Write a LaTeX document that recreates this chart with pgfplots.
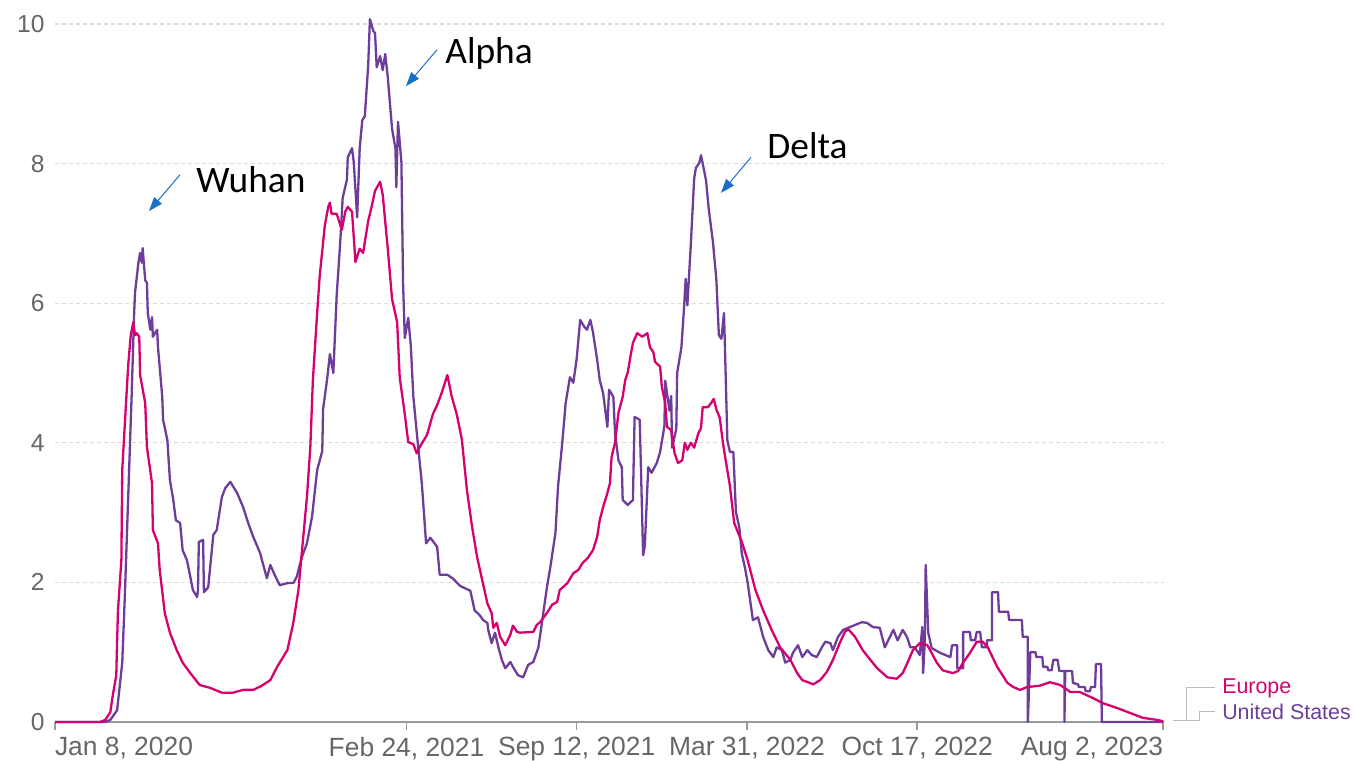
\documentclass[border=0pt]{standalone}
\usepackage{pgfplots}
\pgfplotsset{compat=1.18}
\usepackage{fontspec}
\setmainfont{Liberation Sans}
\newfontfamily\calibri{Carlito}
\usetikzlibrary{arrows.meta}
\definecolor{europe}{HTML}{D6006E}
\definecolor{usa}{HTML}{6E3C9B}
\definecolor{tickgray}{HTML}{666666}
\definecolor{axisgray}{HTML}{9A9A9A}
\definecolor{gridgray}{HTML}{DADADA}
\definecolor{arrowblue}{HTML}{1A6FC4}
\definecolor{conngray}{HTML}{BBBBBB}

\pgfplotstableread{
x y
0 0
53 0
59 0.03
65 0.14
68 0.39
72 0.67
73 1.17
74 1.60
78 2.32
79 3.61
83 4.47
86 5.11
89 5.54
92 5.73
94 5.54
96 5.57
99 5.52
100 4.97
106 4.57
108 3.94
114 3.42
115 2.75
121 2.56
123 2.18
129 1.56
135 1.28
143 1.03
150 0.85
159 0.70
170 0.53
182 0.49
196 0.42
209 0.42
221 0.46
233 0.46
243 0.52
253 0.60
261 0.79
273 1.03
280 1.42
286 1.89
291 2.56
296 3.22
300 3.94
303 4.90
308 5.86
311 6.39
317 7.11
321 7.38
323 7.44
325 7.28
331 7.28
337 7.05
341 7.31
344 7.38
349 7.31
353 6.59
358 6.78
362 6.72
368 7.18
372 7.38
376 7.61
382 7.74
385 7.56
391 6.78
396 6.06
402 5.73
405 4.94
411 4.41
415 4.01
421 3.98
425 3.85
429 3.95
437 4.11
444 4.41
449 4.54
455 4.74
461 4.97
466 4.67
472 4.41
478 4.05
484 3.32
490 2.80
496 2.36
502 2.03
508 1.70
513 1.56
515 1.35
519 1.42
523 1.22
529 1.10
535 1.25
538 1.38
543 1.29
546 1.28
562 1.29
566 1.39
570 1.43
576 1.53
579 1.58
584 1.68
590 1.72
593 1.89
602 1.99
609 2.13
615 2.18
620 2.28
626 2.35
632 2.46
637 2.65
640 2.89
644 3.08
649 3.28
652 3.42
654 3.80
658 4.00
662 4.43
667 4.66
670 4.90
673 5.01
676 5.23
679 5.43
684 5.57
690 5.52
696 5.57
699 5.37
703 5.30
705 5.16
711 5.09
713 4.80
717 4.57
719 4.23
724 4.18
728 3.85
732 3.71
737 3.75
740 4.00
743 3.90
747 4.00
751 3.93
756 4.14
759 4.21
761 4.51
767 4.51
771 4.57
774 4.63
777 4.48
781 4.36
785 3.98
788 3.75
793 3.38
798 2.85
807 2.58
814 2.31
823 1.89
832 1.60
842 1.32
852 1.07
864 0.89
872 0.70
878 0.60
891 0.54
899 0.60
907 0.72
914 0.89
922 1.13
928 1.29
932 1.33
940 1.22
949 1.03
958 0.89
966 0.77
978 0.64
989 0.62
996 0.70
1002 0.86
1008 1.03
1016 1.13
1025 1.10
1030 0.99
1036 0.85
1043 0.74
1055 0.70
1061 0.73
1067 0.85
1075 0.99
1083 1.15
1090 1.15
1096 1.07
1107 0.79
1119 0.56
1126 0.50
1134 0.46
1142 0.50
1157 0.52
1169 0.57
1181 0.53
1193 0.43
1204 0.43
1220 0.34
1231 0.27
1248 0.20
1263 0.13
1278 0.06
1295 0.03
1302 0.01
}\europedata

\pgfplotstableread{
x y
0 0
59 0
65 0.03
73 0.17
79 0.85
82 1.79
86 3.22
90 4.66
93 5.86
94 6.15
98 6.58
100 6.72
102 6.58
103 6.79
106 6.33
108 6.29
109 5.86
112 5.62
114 5.80
115 5.52
120 5.62
121 5.37
126 4.66
127 4.33
132 4.04
135 3.47
139 3.18
142 2.89
147 2.85
150 2.46
155 2.32
159 2.08
162 1.89
167 1.79
168 1.89
169 2.58
174 2.61
175 1.86
180 1.93
186 2.68
190 2.75
196 3.22
200 3.35
206 3.44
214 3.28
221 3.08
227 2.85
233 2.65
241 2.42
244 2.28
249 2.06
253 2.25
258 2.11
264 1.96
273 1.99
280 1.99
284 2.08
290 2.36
296 2.56
302 2.94
308 3.61
314 3.88
315 4.48
320 4.94
323 5.27
327 5.00
331 6.12
335 6.85
338 7.51
343 7.77
344 8.09
349 8.22
351 8.02
355 7.23
358 8.22
361 8.62
364 8.68
368 9.41
370 10.07
374 9.90
376 9.87
378 9.38
382 9.54
385 9.34
388 9.57
391 9.24
396 8.50
400 8.22
401 7.66
403 8.60
407 8.02
409 6.26
411 5.50
415 5.79
418 5.40
421 4.67
425 4.15
431 3.42
436 2.56
441 2.64
449 2.51
452 2.11
461 2.11
468 2.05
476 1.95
488 1.88
493 1.60
499 1.53
503 1.46
508 1.42
509 1.32
513 1.13
517 1.28
521 1.07
525 0.89
529 0.77
535 0.86
538 0.79
544 0.67
550 0.64
556 0.82
562 0.86
568 1.07
573 1.50
578 1.93
582 2.22
588 2.71
591 3.37
596 4.00
600 4.57
605 4.94
609 4.86
613 5.21
617 5.76
622 5.66
625 5.62
629 5.76
632 5.59
637 5.19
640 4.90
644 4.71
649 4.23
651 4.76
656 4.66
658 4.14
662 3.75
666 3.65
667 3.18
673 3.11
679 3.18
681 4.37
687 4.33
691 2.39
693 2.52
697 3.65
701 3.57
707 3.71
711 3.87
716 4.24
717 4.89
722 4.46
724 4.67
725 3.93
730 4.20
731 5.00
736 5.37
739 5.92
741 6.35
743 5.97
747 6.83
751 7.79
753 7.94
757 8.01
759 8.12
763 7.88
765 7.75
768 7.36
773 6.88
777 6.35
780 5.54
783 5.49
786 5.86
787 5.43
790 4.03
793 3.87
797 3.87
800 3.01
804 2.79
807 2.41
811 2.19
814 1.98
820 1.46
826 1.50
832 1.22
838 1.03
844 0.93
848 1.07
854 1.03
858 0.85
864 0.89
867 0.99
873 1.10
878 0.93
884 1.03
889 0.96
895 0.93
901 1.07
905 1.15
911 1.13
914 1.03
920 1.22
926 1.32
934 1.36
940 1.39
948 1.43
954 1.42
961 1.36
969 1.35
975 1.07
981 1.22
985 1.32
990 1.17
996 1.32
1001 1.22
1005 1.07
1010 1.07
1016 0.96
1019 1.36
1020 0.70
1022 1.17
1023 2.25
1026 1.28
1030 1.06
1040 0.99
1052 0.93
1054 1.10
1060 1.10
1060 0.77
1067 0.77
1067 1.29
1075 1.29
1076 1.17
1081 1.17
1083 1.29
1087 1.29
1089 1.07
1095 1.07
1095 1.17
1101 1.17
1101 1.86
1108 1.86
1109 1.58
1120 1.58
1121 1.46
1136 1.46
1137 1.22
1143 1.22
1143 0
1146 1.00
1152 1.00
1153 0.93
1160 0.93
1161 0.79
1166 0.79
1167 0.74
1171 0.74
1173 0.89
1178 0.89
1180 0.73
1186 0.73
1186 0
1187 0.73
1195 0.73
1196 0.56
1202 0.54
1203 0.50
1210 0.50
1211 0.44
1216 0.44
1217 0.50
1222 0.50
1223 0.83
1229 0.83
1230 0
1302 0
}\usdata

\begin{document}
\begin{tikzpicture}
\useasboundingbox (-27.5pt,-19.5pt) rectangle (650.5pt,361pt);
\begin{axis}[
  at={(0pt,0pt)}, anchor=south west,
  scale only axis, width=554.5pt, height=349pt,
  xmin=0, xmax=1303, ymin=0, ymax=10,
  clip=false,
  axis x line*=bottom, axis y line*=left,
  x axis line style={draw=axisgray, line width=0.75pt, -},
  y axis line style={draw=none},
  xtick={0,413,613,813,1013,1302},
  xticklabels={{\makebox[0pt][l]{Jan 8, 2020}},{Feb 24, 2021},{Sep 12, 2021},{Mar 31, 2022},{Oct 17, 2022},{\makebox[0pt][r]{Aug 2, 2023}}},
  ytick={0,2,4,6,8,10},
  yticklabels={0,2,4,6,8,10},
  tick align=outside,
  major tick length=4pt,
  xtick style={draw=axisgray, line width=0.75pt},
  ytick style={draw=none},
  ymajorgrids=true,
  grid style={draw=gridgray, line width=0.6pt, dash pattern=on 2pt off 1.5pt},
  xticklabel style={font=\fontsize{13.2}{14}\selectfont, text=tickgray, inner sep=0pt, anchor=north, yshift=-3.5pt},
  yticklabel style={font=\fontsize{12.3}{14}\selectfont, text=tickgray, inner sep=0pt, anchor=east, xshift=-1pt},
]
\addplot[usa, line width=1.15pt, line join=round, mark=none] table[x=x,y=y] {\usdata};
\addplot[europe, line width=1.15pt, line join=round, mark=none] table[x=x,y=y] {\europedata};

% legend connectors
\draw[conngray, line width=0.5pt] (axis cs:1313,0.015) -- (axis cs:1329,0.015) -- (axis cs:1329,0.50) -- (axis cs:1363,0.50);
\draw[conngray, line width=0.5pt] (axis cs:1329,0.015) -- (axis cs:1345,0.015) -- (axis cs:1345,0.155) -- (axis cs:1363,0.155);
\node[anchor=west, inner sep=0pt, text=europe, font=\fontsize{10.7}{12}\selectfont] at (axis cs:1371,0.48) {Europe};
\node[anchor=west, inner sep=0pt, text=usa, font=\fontsize{10.7}{12}\selectfont] at (axis cs:1371,0.14) {United States};

% annotations
\draw[arrowblue, line width=0.5pt, -{Triangle[length=7pt, width=5pt]}] (axis cs:146.9,7.84) -- (axis cs:110.4,7.32);
\node[anchor=base west, inner sep=0pt, font=\calibri\fontsize{18.7}{20}\selectfont] at (axis cs:165.7,7.58) {Wuhan};
\draw[arrowblue, line width=0.5pt, -{Triangle[length=7pt, width=5pt]}] (axis cs:448.8,9.63) -- (axis cs:412.4,9.11);
\node[anchor=base west, inner sep=0pt, font=\calibri\fontsize{18.7}{20}\selectfont] at (axis cs:458.2,9.44) {Alpha};
\draw[arrowblue, line width=0.5pt, -{Triangle[length=7pt, width=5pt]}] (axis cs:817.8,8.09) -- (axis cs:782.5,7.58);
\node[anchor=base west, inner sep=0pt, font=\calibri\fontsize{18.7}{20}\selectfont] at (axis cs:836.6,8.08) {Delta};
\end{axis}
\end{tikzpicture}
\end{document}
